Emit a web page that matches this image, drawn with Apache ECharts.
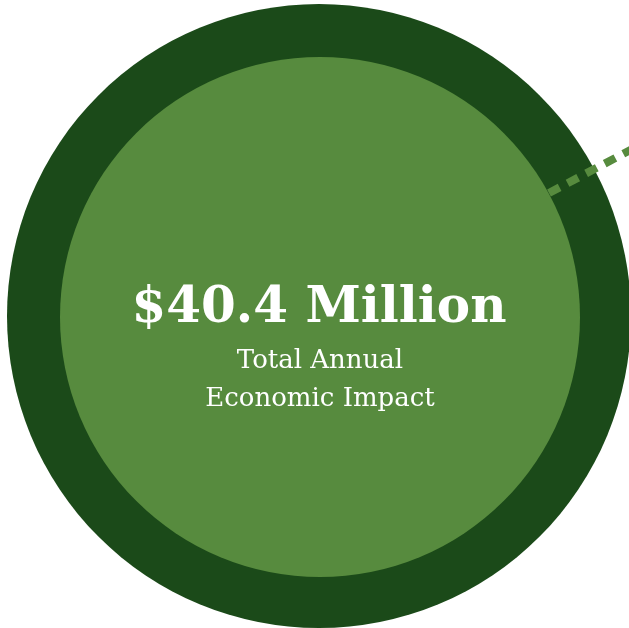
<!DOCTYPE html>
<html>
<head>
<meta charset="utf-8">
<script src="https://cdn.jsdelivr.net/npm/echarts@6/dist/echarts.min.js"></script>
<style>
html,body{margin:0;padding:0;background:#ffffff;}
#chart{width:629px;height:628px;}
</style>
</head>
<body>
<div id="chart"></div>
<script>
// Data
const categories = ['Total Annual Economic Impact'];
const impactMillions = [40.4];
const headline = ['$' + impactMillions[0].toFixed(1) + ' Million'];
const subLines = ['Total Annual', 'Economic Impact'];

const DARK = '#1b4a19';
const LIGHT = '#578b3e';
const FONT = '"DejaVu Serif", serif';

const chart = echarts.init(document.getElementById('chart'), null, {renderer: 'canvas'});

chart.setOption({
  backgroundColor: '#ffffff',
  animation: false,
  series: [
    {
      type: 'pie',
      center: [319, 316],
      radius: [0, 312],
      silent: true,
      label: {show: false},
      labelLine: {show: false},
      itemStyle: {color: DARK, borderWidth: 0},
      data: categories.map((c, i) => ({name: c, value: impactMillions[i]}))
    },
    {
      type: 'pie',
      center: [320, 317],
      radius: [0, 260],
      silent: true,
      z: 3,
      label: {show: false},
      labelLine: {show: false},
      itemStyle: {color: LIGHT, borderWidth: 0},
      data: categories.map((c, i) => ({name: c, value: impactMillions[i]}))
    }
  ],
  graphic: [
    {
      type: 'line',
      z: 10,
      shape: {x1: 549, y1: 193, x2: 640, y2: 145},
      style: {stroke: LIGHT, lineWidth: 8, lineDash: [12, 9]}
    },
    {
      type: 'text',
      z: 20,
      x: 319,
      y: 309,
      style: {
        text: headline[0],
        fill: '#ffffff',
        font: 'bold 50px ' + FONT,
        textAlign: 'center',
        textVerticalAlign: 'middle'
      }
    },
    {
      type: 'text',
      z: 20,
      x: 320,
      y: 361,
      style: {
        text: subLines[0],
        fill: '#ffffff',
        font: '26px ' + FONT,
        textAlign: 'center',
        textVerticalAlign: 'middle'
      }
    },
    {
      type: 'text',
      z: 20,
      x: 320,
      y: 399,
      style: {
        text: subLines[1],
        fill: '#ffffff',
        font: '26px ' + FONT,
        textAlign: 'center',
        textVerticalAlign: 'middle'
      }
    }
  ]
});
</script>
</body>
</html>
